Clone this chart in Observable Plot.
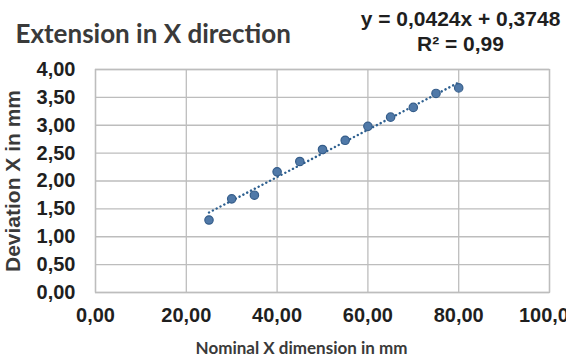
<!DOCTYPE html>
<html>
<head>
<meta charset="utf-8">
<script src="https://cdn.jsdelivr.net/npm/d3@7"></script>
<script src="https://cdn.jsdelivr.net/npm/@observablehq/plot@0.6"></script>
<style>
  html, body { margin: 0; padding: 0; background: #fff; overflow: hidden; }
  #chart svg { display: block; overflow: hidden; }
</style>
</head>
<body>
<div id="chart"></div>
<script>
// Measured extension in X direction
const nominalX = [25, 30, 35, 40, 45, 50, 55, 60, 65, 70, 75, 80];
const deviationX = [1.30, 1.68, 1.745, 2.165, 2.35, 2.565, 2.73, 2.98, 3.145, 3.32, 3.57, 3.67];

// Linear trend line (as stated in the equation label)
const slope = 0.0424;
const intercept = 0.3748;
const rSquared = 0.99;

const xTicks = [0, 20, 40, 60, 80, 100];
const yTicks = [0, 0.5, 1, 1.5, 2, 2.5, 3, 3.5, 4];

const fmt = d => d.toFixed(2).replace(".", ",");
const fmtCoef = d => String(d).replace(".", ",");

const points = nominalX.map((x, i) => ({x, y: deviationX[i]}));
const trendX = [nominalX[0], nominalX[nominalX.length - 1]];
const trend = trendX.map(x => ({x, y: slope * x + intercept}));

const gridColor = "#bdbdbd";
const textColor = "#1f1f1f";
const titleColor = "#3a3a3a";
const sans = "Liberation Sans, Arial, sans-serif";

const chart = Plot.plot({
  width: 566,
  height: 358,
  marginLeft: 95,
  marginRight: 17,
  marginTop: 69,
  marginBottom: 66,
  style: {background: "#fff", color: textColor},
  x: {domain: [0, 100], ticks: xTicks, tickFormat: fmt, label: null},
  y: {domain: [0, 4], ticks: yTicks, tickFormat: fmt, label: null},
  marks: [
    Plot.gridX(xTicks, {stroke: gridColor, strokeOpacity: 1, strokeWidth: 1.3}),
    Plot.gridY(yTicks, {stroke: gridColor, strokeOpacity: 1, strokeWidth: 1.3}),
    Plot.frame({stroke: gridColor, strokeWidth: 1.3}),
    Plot.axisX(xTicks, {tickSize: 0, tickPadding: 15, tickFormat: fmt,
      fontSize: 20, fontWeight: "bold", fontFamily: sans, fill: textColor}),
    Plot.axisY(yTicks, {tickSize: 0, tickPadding: 20, tickFormat: fmt,
      fontSize: 20, fontWeight: "bold", fontFamily: sans, fill: textColor}),
    Plot.line(trend, {x: "x", y: "y", stroke: "#2e6090", strokeWidth: 2.4,
      strokeDasharray: "0.1 4.2", strokeLinecap: "round"}),
    Plot.dot(points, {x: "x", y: "y", r: 4.2, fill: "#5079a8", stroke: "#355d8a", strokeWidth: 1.2}),
    // Chart title
    Plot.text(["Extension in X direction"], {frameAnchor: "top-left", dx: -80, dy: -35,
      textAnchor: "start", lineAnchor: "middle",
      fontSize: 26, fontWeight: "bold", fontFamily: "Lato, sans-serif", fill: titleColor}),
    // Trend line equation
    Plot.text([`y = ${fmtCoef(slope)}x + ${fmtCoef(intercept)}`], {frameAnchor: "top-right", dx: -89, dy: -50,
      textAnchor: "middle", lineAnchor: "middle",
      fontSize: 21, fontWeight: "bold", fontFamily: sans, fill: textColor}),
    Plot.text([`R² = ${fmtCoef(rSquared)}`], {frameAnchor: "top-right", dx: -89, dy: -25,
      textAnchor: "middle", lineAnchor: "middle",
      fontSize: 21, fontWeight: "bold", fontFamily: sans, fill: textColor}),
    // Axis titles
    Plot.text(["Nominal X dimension in mm"], {frameAnchor: "bottom", dx: -21, dy: 56,
      textAnchor: "middle", lineAnchor: "middle",
      fontSize: 17, fontWeight: "bold", fontFamily: "Lato, sans-serif", fill: titleColor}),
    Plot.text(["Deviation X in mm"], {frameAnchor: "left", dx: -82, dy: 0, rotate: -90,
      textAnchor: "middle", lineAnchor: "middle",
      fontSize: 21, fontWeight: "bold", fontFamily: sans, fill: titleColor})
  ]
});

document.getElementById("chart").appendChild(chart);
</script>
</body>
</html>
